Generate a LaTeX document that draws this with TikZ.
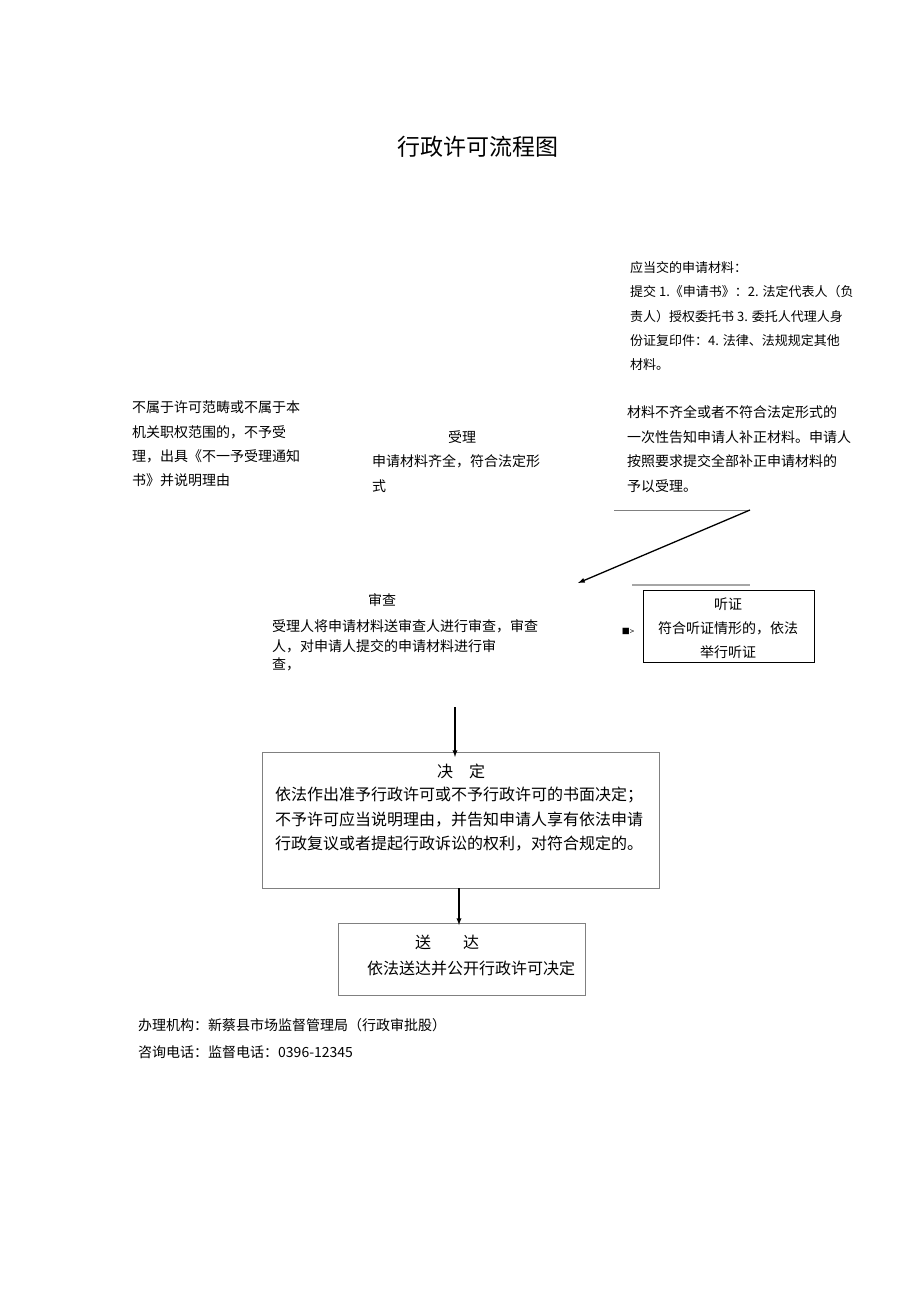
\documentclass[tikz,border=0pt]{standalone}
\usepackage{fontspec}
\setmainfont{Noto Sans CJK SC}
\begin{document}
\begin{tikzpicture}[x=1pt,y=-1pt,
  t/.style={anchor=west,inner sep=0pt,font=\fontsize{14}{14}\selectfont},
  ts/.style={anchor=west,inner sep=0pt,font=\fontsize{13}{13}\selectfont},
  tb/.style={anchor=west,inner sep=0pt,font=\fontsize{16}{16}\selectfont},
  tc/.style={inner sep=0pt,font=\fontsize{14}{14}\selectfont},
  arr/.style={-latex,line width=1.3pt},
  gbox/.style={draw=gray,line width=1pt}]
\useasboundingbox (0,0) rectangle (920,1301);
\node[inner sep=0pt,font=\fontsize{23}{23}\selectfont] (title) at (478,147) {行政许可流程图};
\node[ts] (m1) at (630,268) {应当交的申请材料：};
\node[ts] (m2) at (630,292) {提交 1.《申请书》：2. 法定代表人（负};
\node[ts] (m3) at (630,317) {责人）授权委托书 3. 委托人代理人身};
\node[ts] (m4) at (630,341) {份证复印件：4. 法律、法规规定其他};
\node[ts] (m5) at (630,365) {材料。};
\node[t] (l1) at (132,407) {不属于许可范畴或不属于本};
\node[t] (l2) at (132,432) {机关职权范围的，不予受};
\node[t] (l3) at (132,456) {理，出具《不一予受理通知};
\node[t] (l4) at (132,480) {书》并说明理由};
\node[tc] (sl) at (462,437) {受理};
\node[t] (s1) at (372,461) {申请材料齐全，符合法定形};
\node[t] (s2) at (372,486) {式};
\node[t] (r1) at (627,412) {材料不齐全或者不符合法定形式的};
\node[t] (r2) at (627,437) {一次性告知申请人补正材料。申请人};
\node[t] (r3) at (627,461) {按照要求提交全部补正申请材料的};
\node[t] (r4) at (627,486) {予以受理。};
\coordinate (g1) at (614,510); \coordinate (g2) at (750,510);
\draw[gray,line width=1pt] (g1) -- (g2);
\coordinate (ae) at (578,583);
\draw[arr] (g2) -- (ae);
\coordinate (h1) at (632,585); \coordinate (h2) at (750,585);
\draw[gray!70,line width=1.5pt] (h1) -- (h2);
\node[draw,line width=0.8pt,minimum width=171pt,minimum height=72pt] (hbox) at (728.5,626) {};
\node[tc] at (728,604) {听证};
\node[tc] at (728,628) {符合听证情形的，依法};
\node[tc] at (728,652) {举行听证};
\node[inner sep=0pt,font=\fontsize{8}{8}\selectfont] (mk) at (628,631) {■>};
\node[tc] (sc) at (382,600) {审查};
\node[t] (c1) at (272,626) {受理人将申请材料送审查人进行审查，审查};
\node[t] (c2) at (272,646) {人，对申请人提交的申请材料进行审};
\node[t] (c3) at (272,664) {查，};
\coordinate (a1) at (455,707);
\node[gbox,minimum width=397pt,minimum height=136pt] (dbox) at (460.5,820) {};
\draw[arr] (a1) -- (455,757);
\node[inner sep=0pt,font=\fontsize{16}{16}\selectfont] (dt) at (461,771) {决\quad 定};
\node[tb] at (275,795) {依法作出准予行政许可或不予行政许可的书面决定；};
\node[tb] at (275,820) {不予许可应当说明理由，并告知申请人享有依法申请};
\node[tb] at (275,844) {行政复议或者提起行政诉讼的权利，对符合规定的。};
\node[gbox,minimum width=247pt,minimum height=72pt] (ebox) at (461.5,959) {};
\draw[arr] (459,888) -- (459,925);
\node[inner sep=0pt,font=\fontsize{16}{16}\selectfont] at (447,942) {送\quad\quad 达};
\node[inner sep=0pt,font=\fontsize{16}{16}\selectfont] at (471,968) {依法送达并公开行政许可决定};
\node[t] (f1) at (138,1025) {办理机构：新蔡县市场监督管理局（行政审批股）};
\node[t] (f2) at (138,1052) {咨询电话：监督电话：0396-12345};
\end{tikzpicture}
\end{document}
